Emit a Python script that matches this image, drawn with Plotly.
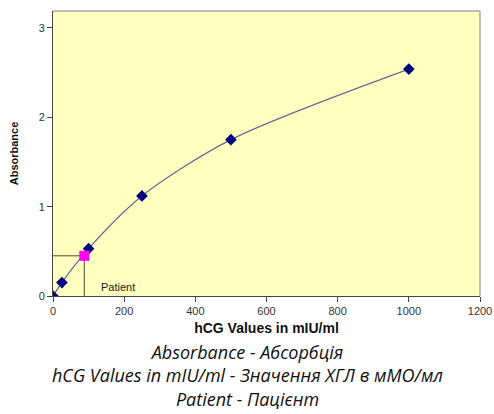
import plotly.graph_objects as go

hcg = [0, 25, 100, 250, 500, 1000]
absorbance = [0, 0.15, 0.53, 1.12, 1.75, 2.54]
patient_hcg = 88
patient_abs = 0.45
x_ticks = [0, 200, 400, 600, 800, 1000, 1200]
y_ticks = [0, 1, 2, 3]
captions = ["Absorbance - Абсорбція",
            "hCG Values in mIU/ml - Значення ХГЛ в мМО/мл",
            "Patient - Пацієнт"]

fig = go.Figure()
fig.add_trace(go.Scatter(
    x=[0, patient_hcg, patient_hcg], y=[patient_abs, patient_abs, 0],
    mode="lines", line=dict(color="#4a4a2a", width=1), hoverinfo="skip"))
fig.add_trace(go.Scatter(
    x=hcg, y=absorbance, mode="lines+markers",
    line=dict(color="#6a6a9a", width=1.3, shape="spline", smoothing=0.8),
    marker=dict(symbol="diamond", size=9, color="#000080")))
fig.add_trace(go.Scatter(
    x=[patient_hcg], y=[patient_abs], mode="markers",
    marker=dict(symbol="square", size=10, color="#ff00ff")))

fig.add_annotation(x=183, y=0.1, text="Patient", showarrow=False,
                   font=dict(family="Arial, Liberation Sans", size=11, color="#222"))

fig.add_annotation(xref="paper", yref="paper", xanchor="center", yanchor="middle",
                   x=(247 - 53) / 427, y=(296 - 375) / 285,
                   text="<br>".join("<i>" + c + "</i>" for c in captions),
                   showarrow=False, align="center",
                   font=dict(family="Open Sans", size=18, color="#111"))

fig.update_layout(
    width=494, height=414,
    margin=dict(l=53, r=14, t=11, b=118, autoexpand=False),
    plot_bgcolor="#ffffc0", paper_bgcolor="white",
    showlegend=False,
    xaxis=dict(range=[0, 1200], tickvals=x_ticks, ticks="outside", ticklen=5,
               tickcolor="#444", showgrid=False, zeroline=False,
               showline=True, linecolor="#444", automargin=False,
               title=dict(text="<b>hCG Values in mIU/ml</b>", standoff=6,
                          font=dict(family="Arial, Liberation Sans", size=14, color="#111")),
               tickfont=dict(family="Arial, Liberation Sans", size=11, color="#333")),
    yaxis=dict(range=[0, 3.19], tickvals=y_ticks, ticks="outside", ticklen=5,
               tickcolor="#444", showgrid=False, zeroline=False,
               showline=True, linecolor="#444", automargin=False,
               title=dict(text="<b>Absorbance</b>", standoff=17,
                          font=dict(family="Arial, Liberation Sans", size=11, color="#111")),
               tickfont=dict(family="Arial, Liberation Sans", size=11, color="#333")),
)
fig.add_shape(type="line", xref="paper", yref="paper", x0=0, y0=1, x1=1, y1=1,
              line=dict(color="#aaaaaa", width=1.5))
fig.add_shape(type="line", xref="paper", yref="paper", x0=1, y0=0, x1=1, y1=1,
              line=dict(color="#aaaaaa", width=1.5))
fig.write_html("out.html", config={"displayModeBar": False},
               post_script="document.body.style.margin='0';document.body.style.overflow='hidden';")
